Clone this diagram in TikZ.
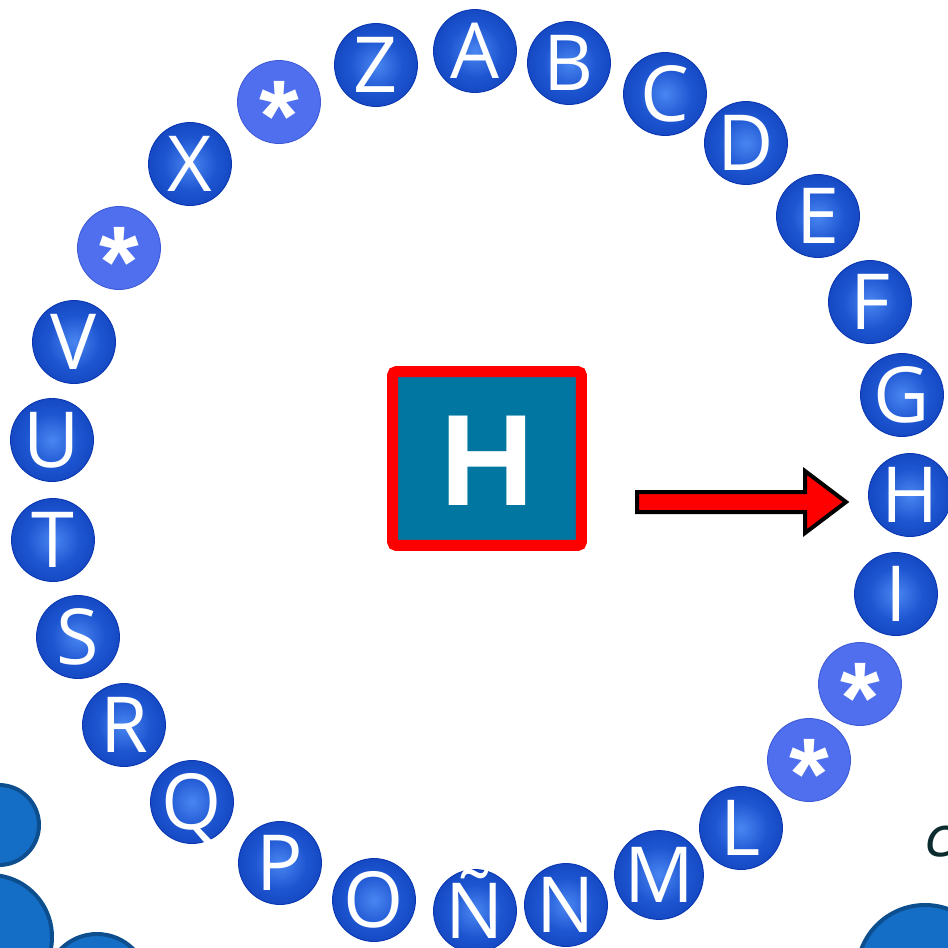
\documentclass[tikz,border=0pt]{standalone}
\usepackage{fontspec}
\usetikzlibrary{calc}
\newfontfamily\ballfont{Open Sans}
\newfontfamily\boxfont{Liberation Sans}
\newfontfamily\handfont{DejaVu Sans}

\definecolor{ballin}{HTML}{4A86F2}
\definecolor{ballmid}{HTML}{1D55D0}
\definecolor{ballout}{HTML}{0A36B0}
\definecolor{starblue}{HTML}{506FEE}
\definecolor{starrim}{HTML}{3E5AD6}
\definecolor{boxteal}{HTML}{0076A1}
\definecolor{cornerblue}{HTML}{156EC6}
\definecolor{cornerrim}{HTML}{0C4E8E}
\definecolor{inkgreen}{HTML}{0B2B2E}

\pgfdeclareradialshading{ballshade}{\pgfpoint{0bp}{0bp}}{color(0bp)=(ballin); color(16bp)=(ballmid); color(40bp)=(ballout); color(50bp)=(ballout)}

\newcommand{\starmark}{\raisebox{-28pt}{*}}

\tikzset{
  letterball/.style={circle, minimum size=1.66cm, inner sep=0pt, shading=ballshade,
    draw=ballout, line width=0.5pt, text=white,
    font=\ballfont\fontsize{44}{44}\selectfont, text height=31.4pt, text depth=0pt},
  starball/.style={circle, minimum size=1.66cm, inner sep=0pt, fill=starblue,
    draw=starrim, line width=0.5pt, text=white,
    font=\boxfont\bfseries\fontsize{58}{58}\selectfont, text height=0pt, text depth=0pt},
  hbox/.style={rectangle, minimum width=3.78cm, minimum height=3.48cm, inner sep=0pt,
    fill=boxteal, draw=red, line width=0.22cm, rounded corners=0.08cm, text=white,
    font=\boxfont\bfseries\fontsize{74}{74}\selectfont, text height=53pt, text depth=0pt},
  fatarrow/.style={fill=red, draw=black, line width=0.08cm, line join=miter},
  cornerdisc/.style={fill=cornerblue, draw=cornerrim, line width=0.08cm},
  handtext/.style={inner sep=0pt, text=inkgreen, font=\handfont\itshape\fontsize{31}{31}\selectfont}
}

\begin{document}
\begin{tikzpicture}[x=0.02cm, y=-0.02cm]
\path[use as bounding box] (0,0) rectangle (948,948);
\clip (0,0) rectangle (948,948);

\draw[cornerdisc] (-1,825) circle[radius=40];
\draw[cornerdisc] (-10,937) circle[radius=62];
\draw[cornerdisc] (97,985) circle[radius=51];
\draw[cornerdisc] (925,973) circle[radius=68];

\node[letterball] (ballA) at (475,51) {A};
\node[letterball] (ballB) at (569,63) {B};
\node[letterball] (ballC) at (665,94) {C};
\node[letterball] (ballD) at (746,143) {D};
\node[letterball] (ballE) at (818,216) {E};
\node[letterball] (ballF) at (870,302) {F};
\node[letterball] (ballG) at (902,395) {G};
\node[letterball] (ballH) at (910,495) {H};
\node[letterball] (ballI) at (896,594) {I};
\node[starball] (star1) at (860,684) {\starmark};
\node[starball] (star2) at (809,760) {\starmark};
\node[letterball] (ballL) at (741,828) {L};
\node[letterball] (ballM) at (659,875) {M};
\node[letterball] (ballN) at (566,905) {N};
\node[letterball] (ballNN) at (475,911) {Ñ};
\node[letterball] (ballO) at (374,900) {O};
\node[letterball] (ballP) at (280,863) {P};
\node[letterball] (ballQ) at (192,802) {Q};
\node[letterball] (ballR) at (124,725) {R};
\node[letterball] (ballS) at (78,637) {S};
\node[letterball] (ballT) at (53,540) {T};
\node[letterball] (ballU) at (52,440) {U};
\node[letterball] (ballV) at (74,342) {V};
\node[starball] (star3) at (119,248) {\starmark};
\node[letterball] (ballX) at (190,164) {X};
\node[starball] (star4) at (279,102) {\starmark};
\node[letterball] (ballZ) at (376,65) {Z};

\node[hbox] (boxH) at (487,458.5) {H};

\coordinate (arrowtail) at (637,502);
\coordinate (arrowtip) at (846,502);
\draw[fatarrow] ($(arrowtail)+(0,-10)$) -- ($(arrowtail)+(168,-10)$) -- ($(arrowtail)+(168,-31)$)
  -- (arrowtip) -- ($(arrowtail)+(168,31)$) -- ($(arrowtail)+(168,10)$) -- ($(arrowtail)+(0,10)$) -- cycle;

\node[handtext, anchor=base west] (cmark) at (925,856) {c};
\end{tikzpicture}
\end{document}
